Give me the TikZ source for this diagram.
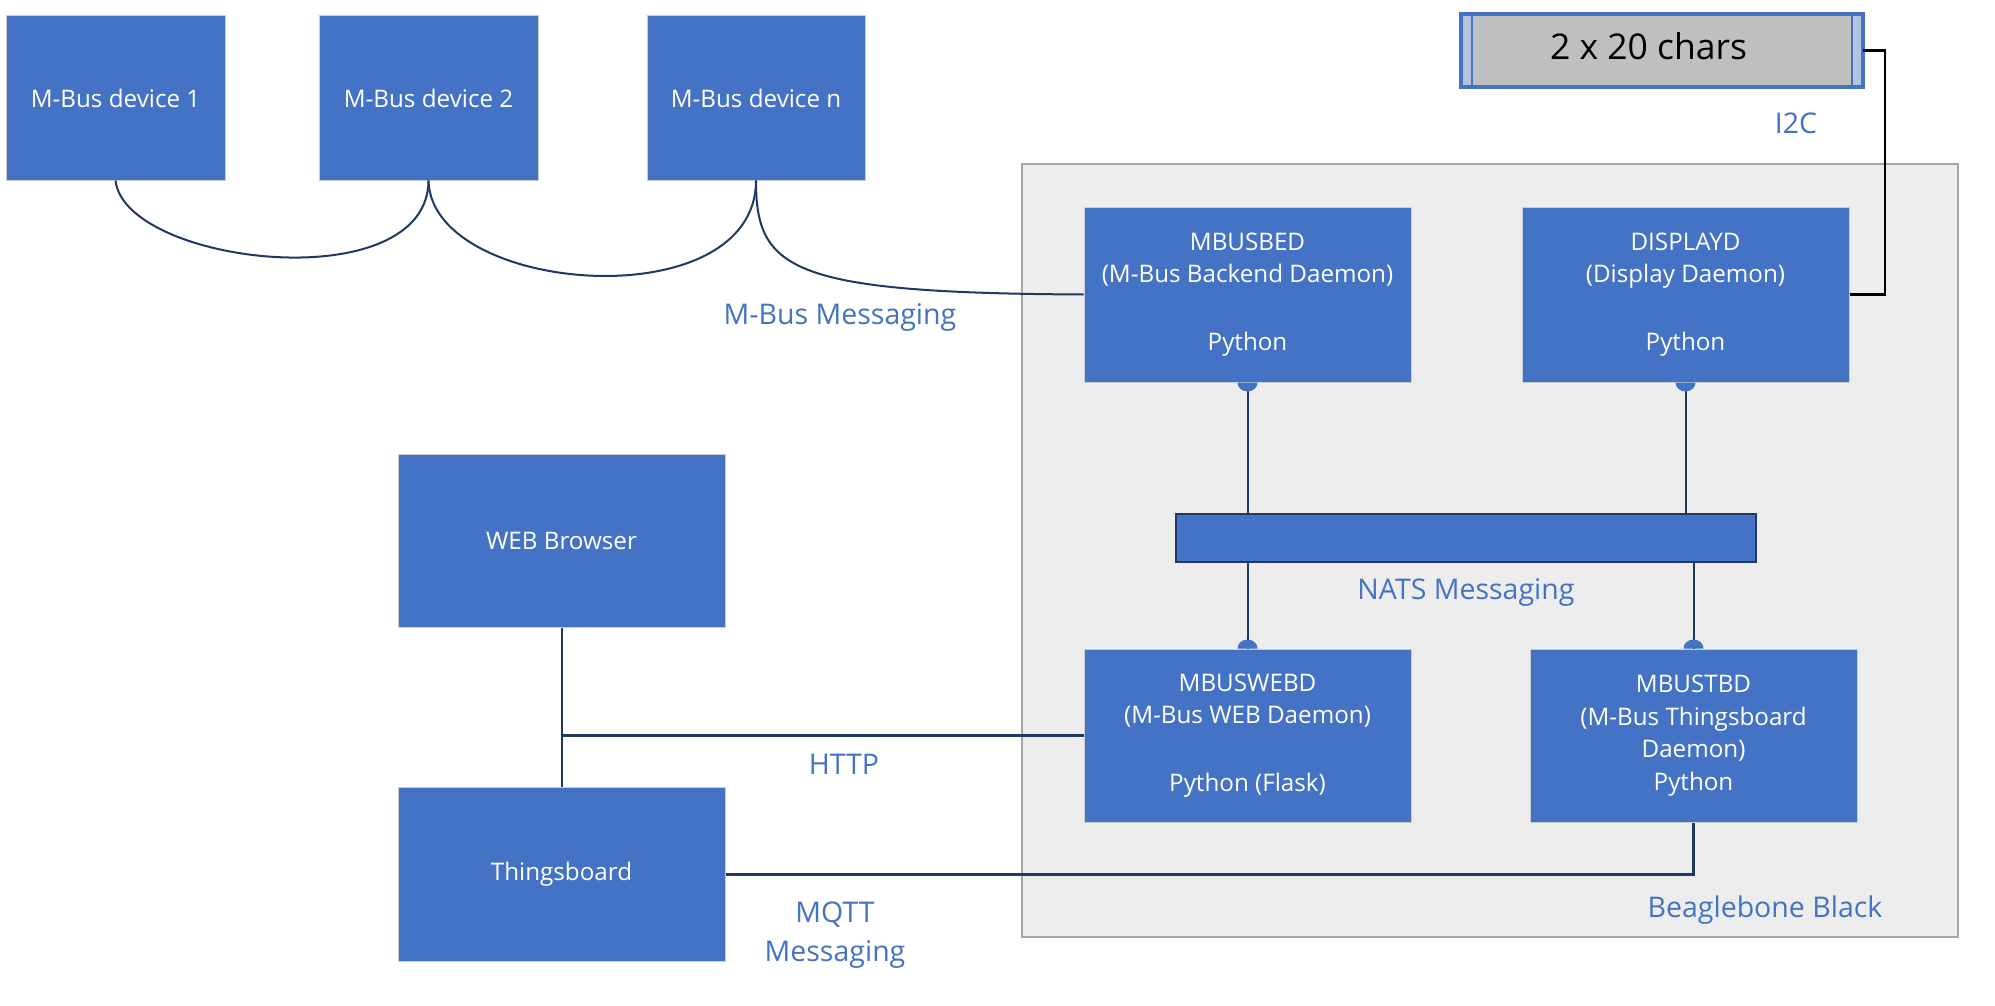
\documentclass[tikz,border=0pt]{standalone}
\usepackage{fontspec}
\setmainfont{Open Sans}
\definecolor{boxblue}{HTML}{4472C4}
\definecolor{navy}{HTML}{1F3864}
\definecolor{framegray}{HTML}{A5A5A5}
\definecolor{framefill}{HTML}{EDEDED}
\definecolor{lcdgray}{HTML}{BFBFBF}
\definecolor{edgegray}{HTML}{C9CDD6}
\definecolor{striplight}{HTML}{B4C3E0}
\begin{document}
\begin{tikzpicture}[x=1pt,y=-1pt,
  blk/.style={fill=boxblue, draw=edgegray, line width=1pt, text=white, align=center,
    inner sep=0pt, font=\fontsize{24.2}{32.5}\selectfont},
  lbl/.style={text=boxblue, font=\fontsize{28.5}{39}\selectfont, inner sep=0pt, align=center},
  wire/.style={draw=navy, line width=2pt},
  thickwire/.style={draw=navy, line width=3pt},
  dotend/.style={fill=boxblue}]

\useasboundingbox (0,0) rectangle (1995,1006);
\fill[white] (0,0) rectangle (1995,1006);

% board frame
\node (bb) [draw=framegray, fill=framefill, line width=2.5pt, minimum width=936pt,
  minimum height=773pt, inner sep=0pt] at (1490,550.5) {};

% M-Bus devices
\node (dev1) [blk, minimum width=219pt, minimum height=164pt] at (115.5,98) {M-Bus device 1};
\node (dev2) [blk, minimum width=219pt, minimum height=164pt] at (428.5,98) {M-Bus device 2};
\node (devn) [blk, minimum width=218pt, minimum height=164pt] at (756,98) {M-Bus device n};

% daemons
\node (mbusbed) [blk, minimum width=327pt, minimum height=175pt] at (1247.5,294.5)
  {MBUSBED\\(M-Bus Backend Daemon)\\[35pt]Python};
\node (displayd) [blk, minimum width=327pt, minimum height=175pt] at (1685.5,294.5)
  {DISPLAYD\\(Display Daemon)\\[35pt]Python};
\node (mbuswebd) [blk, minimum width=327pt, minimum height=173pt] at (1247.5,735.5)
  {MBUSWEBD\\(M-Bus WEB Daemon)\\[35pt]Python (Flask)};
\node (mbustbd) [blk, minimum width=327pt, minimum height=173pt] at (1693.5,735.5)
  {MBUSTBD\\(M-Bus Thingsboard\\Daemon)\\Python};

% NATS bus bar
\node (nats) [fill=boxblue, draw=navy, line width=2pt, minimum width=580pt,
  minimum height=48pt, inner sep=0pt] at (1466,538) {};

% external
\node (web) [blk, minimum width=327pt, minimum height=173pt] at (561.5,540.5) {WEB Browser};
\node (thingsboard) [blk, minimum width=327pt, minimum height=174pt] at (561.5,874) {Thingsboard};

% LCD display
\node (lcd) [fill=lcdgray, minimum width=402pt, minimum height=73pt, inner sep=0pt] at (1662,50.5) {};
\fill[striplight] (lcd.north west) rectangle ([xshift=11pt]lcd.south west);
\fill[striplight] (lcd.north east) rectangle ([xshift=-11pt]lcd.south east);
\draw[boxblue, line width=2.5pt] ([xshift=11pt]lcd.north west) -- ([xshift=11pt]lcd.south west);
\draw[boxblue, line width=2.5pt] ([xshift=-11pt]lcd.north east) -- ([xshift=-11pt]lcd.south east);
\draw[boxblue, line width=3.5pt] (lcd.north west) rectangle (lcd.south east);
\node (lcdtext) [inner sep=0pt, font=\fontsize{35.5}{40}\selectfont, anchor=base] at (1648.5,60) {2 x 20 chars};

% M-Bus wiring
\draw[wire] (dev1.south) .. controls (125,265) and (428,300) .. (dev2.south);
\draw[wire] (dev2.south) .. controls (431,295) and (756,320) .. (devn.south);
\draw[wire] (devn.south) .. controls (756,270) and (790,293) .. (mbusbed.west);

% NATS wiring
\draw[wire] (mbusbed.south) -- (mbusbed.south |- nats.north);
\draw[wire] (displayd.south) -- (displayd.south |- nats.north);
\draw[wire] (nats.south -| mbuswebd.north) -- (mbuswebd.north);
\draw[wire] (nats.south -| mbustbd.north) -- (mbustbd.north);

% ball ends
\fill[boxblue] ([xshift=-10pt]mbusbed.south) arc[start angle=180, end angle=0, x radius=10, y radius=9] -- cycle;
\fill[boxblue] ([xshift=-10pt]displayd.south) arc[start angle=180, end angle=0, x radius=10, y radius=9] -- cycle;
\fill[boxblue] ([xshift=-10pt]mbuswebd.north) arc[start angle=180, end angle=360, x radius=10, y radius=9] -- cycle;
\fill[boxblue] ([xshift=-10pt]mbustbd.north) arc[start angle=180, end angle=360, x radius=10, y radius=9] -- cycle;

% HTTP / MQTT
\draw[wire] (web.south) -- (thingsboard.north);
\coordinate (hj) at (web.south |- mbuswebd.west);
\draw[thickwire] (hj) -- (mbuswebd.west);
\draw[thickwire] (thingsboard.east) -- (thingsboard.east -| mbustbd.south) -- (mbustbd.south);

% I2C
\coordinate (i2cx) at (1885,0);
\draw[black, line width=2.5pt] (displayd.east) -- (displayd.east -| i2cx) |- (lcd.east);

% labels
\node (lmbus) [lbl] at (840,317) {M-Bus Messaging};
\node (li2c) [lbl] at (1796,123) {I2C};
\node (lnats) [lbl] at (1466,592) {NATS Messaging};
\node (lhttp) [lbl] at (844,764) {HTTP};
\node (lmqtt) [lbl] at (835,935) {MQTT\\Messaging};
\node (lbb) [lbl] at (1765,910) {Beaglebone Black};
\end{tikzpicture}
\end{document}
